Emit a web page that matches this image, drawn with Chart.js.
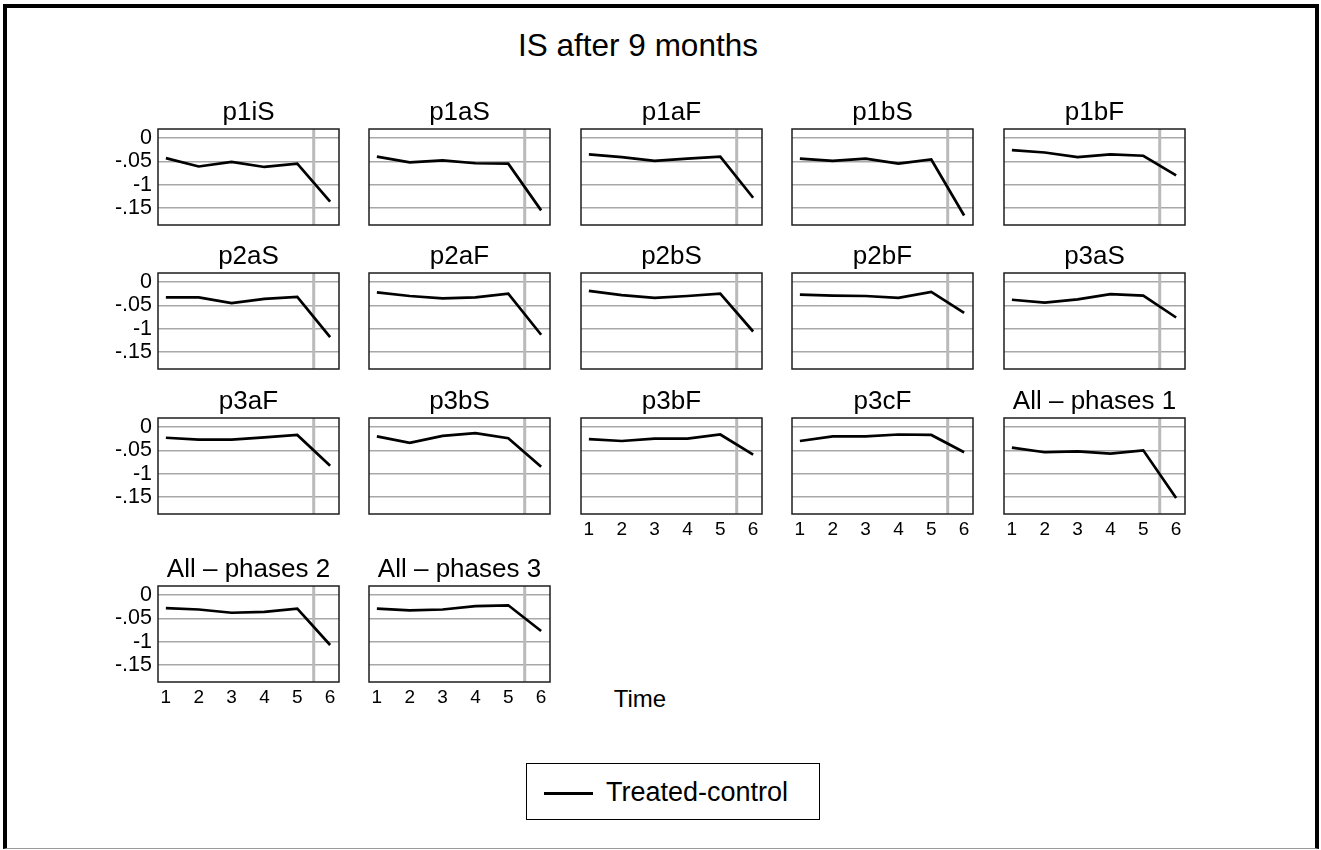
<!DOCTYPE html>
<html>
<head>
<meta charset="utf-8">
<script src="https://cdn.jsdelivr.net/npm/chart.js@4"></script>
<style>
  html, body { margin: 0; padding: 0; background: #fff; }
  body { width: 1321px; height: 850px; position: relative; overflow: hidden;
         font-family: "Liberation Sans", Arial, sans-serif; color: #000; }
  #frame { position: absolute; left: 3px; top: 4px; width: 1316px; height: 845px; box-sizing: border-box;
           border: 4px solid #000; border-bottom: 1px solid #999; }
  canvas { position: absolute; }
  .txt { position: absolute; line-height: 1; white-space: nowrap; }
  #title { font-size: 31.5px; top: 30px; left: 0; width: 1276px; text-align: center; }
  #xtitle { font-size: 24px; top: 687px; left: 0; width: 1280px; text-align: center; }
  #legend { position: absolute; left: 526px; top: 763px; width: 294px; height: 57px; box-sizing: border-box;
            border: 1.5px solid #000; }
  #legend-line { position: absolute; left: 544px; top: 792px; width: 49px; height: 2.7px; background: #000; }
  #legend-text { font-size: 27px; left: 606px; top: 779px; }
</style>
</head>
<body>
<div id="frame"></div>
<div id="title" class="txt">IS after 9 months</div>
<div id="xtitle" class="txt">Time</div>
<div id="legend"></div>
<div id="legend-line"></div>
<div id="legend-text" class="txt">Treated-control</div>
<script>
"use strict";

// ---- data ----
const X_TIMES = [1, 2, 3, 4, 5, 6];
const X_LABELS = ["1", "2", "3", "4", "5", "6"];
const Y_TICKS = [0, -0.05, -0.1, -0.15];
const Y_LABELS = ["0", "-.05", "-1", "-.15"];   // as printed in the original
const CUTOFF = 5.5;                              // grey vertical reference line
const SERIES_LABEL = "Treated-control";

const P1IS   = [-0.043, -0.061, -0.051, -0.062, -0.055, -0.136];
const P1AS   = [-0.040, -0.052, -0.048, -0.054, -0.055, -0.155];
const P1AF   = [-0.035, -0.041, -0.049, -0.044, -0.040, -0.128];
const P1BS   = [-0.044, -0.049, -0.044, -0.055, -0.046, -0.166];
const P1BF   = [-0.026, -0.031, -0.041, -0.035, -0.038, -0.080];
const P2AS   = [-0.033, -0.033, -0.045, -0.036, -0.032, -0.118];
const P2AF   = [-0.022, -0.030, -0.035, -0.033, -0.025, -0.113];
const P2BS   = [-0.019, -0.028, -0.034, -0.030, -0.025, -0.106];
const P2BF   = [-0.027, -0.029, -0.030, -0.034, -0.021, -0.066];
const P3AS   = [-0.038, -0.044, -0.037, -0.026, -0.029, -0.076];
const P3AF   = [-0.023, -0.027, -0.027, -0.022, -0.017, -0.083];
const P3BS   = [-0.020, -0.034, -0.019, -0.013, -0.024, -0.085];
const P3BF   = [-0.026, -0.030, -0.025, -0.025, -0.016, -0.059];
const P3CF   = [-0.030, -0.020, -0.020, -0.016, -0.017, -0.054];
const ALL_P1 = [-0.044, -0.054, -0.052, -0.057, -0.050, -0.152];
const ALL_P2 = [-0.028, -0.031, -0.038, -0.036, -0.029, -0.107];
const ALL_P3 = [-0.029, -0.033, -0.031, -0.024, -0.022, -0.077];

const PANELS = [
  ["p1iS", P1IS], ["p1aS", P1AS], ["p1aF", P1AF], ["p1bS", P1BS], ["p1bF", P1BF],
  ["p2aS", P2AS], ["p2aF", P2AF], ["p2bS", P2BS], ["p2bF", P2BF], ["p3aS", P3AS],
  ["p3aF", P3AF], ["p3bS", P3BS], ["p3bF", P3BF], ["p3cF", P3CF], ["All \u2013 phases 1", ALL_P1],
  ["All \u2013 phases 2", ALL_P2], ["All \u2013 phases 3", ALL_P3],
];

// ---- layout ----
const NCOL = 5;
const COL_LEFT = [158, 369, 581, 792, 1004];   // plot-box left edges
const ROW_TOP = [129, 273, 418, 586];          // plot-box top edges
const BOX_W = 181, BOX_H = 96;
const Y_MIN = -0.1863, Y_MAX = 0.0193;
const X_MIN = 0.76, X_MAX = 6.27;
const PAD = 6, Y_AXIS_W = 60, TITLE_H = 32, X_AXIS_H = 36;

Chart.defaults.font.family = "'Liberation Sans', Arial, sans-serif";
Chart.defaults.color = "#000";

// grey reference line under the data, dark frame around the plot region
const panelFrame = {
  id: "panelFrame",
  beforeDatasetsDraw(chart) {
    const { ctx, chartArea: { top, bottom }, scales: { x } } = chart;
    const px = x.getPixelForValue(CUTOFF);
    ctx.save();
    ctx.strokeStyle = "#bababa"; ctx.lineWidth = 3;
    ctx.beginPath(); ctx.moveTo(px, top); ctx.lineTo(px, bottom); ctx.stroke();
    ctx.restore();
  },
  afterDatasetsDraw(chart) {
    const { ctx, chartArea: { top, bottom, left, right } } = chart;
    ctx.save();
    ctx.strokeStyle = "#1e1e1e"; ctx.lineWidth = 1.5;
    ctx.strokeRect(left, top, right - left, bottom - top);
    ctx.restore();
  },
};

function makePanel([name, values], i) {
  const row = Math.floor(i / NCOL), col = i % NCOL;
  const hasY = col === 0;
  const hasX = i + NCOL >= PANELS.length;   // bottom panel of its column
  const yW = hasY ? Y_AXIS_W : 0;
  const w = PAD + yW + BOX_W + PAD, h = TITLE_H + BOX_H + X_AXIS_H;

  const cv = document.createElement("canvas");
  cv.width = w; cv.height = h;
  cv.style.width = w + "px"; cv.style.height = h + "px";
  cv.style.left = (COL_LEFT[col] - PAD - yW) + "px";
  cv.style.top = (ROW_TOP[row] - TITLE_H) + "px";
  document.body.appendChild(cv);

  new Chart(cv, {
    type: "line",
    data: {
      datasets: [{
        label: SERIES_LABEL,
        data: X_TIMES.map((t, k) => ({ x: t, y: values[k] })),
        borderColor: "#000", borderWidth: 2.7, pointRadius: 0, tension: 0,
      }],
    },
    plugins: [panelFrame],
    options: {
      responsive: false, animation: false, devicePixelRatio: 1, events: [],
      layout: { padding: { left: PAD, right: PAD, top: 0, bottom: 0 } },
      plugins: {
        legend: { display: false },
        tooltip: { enabled: false },
        title: {
          display: true, text: name, fullSize: false, color: "#000",
          font: { size: 26, weight: "normal", lineHeight: 1.2 },
          padding: { top: 0, bottom: TITLE_H - 31.2 },
        },
      },
      scales: {
        x: {
          type: "linear", min: X_MIN, max: X_MAX,
          afterBuildTicks: (s) => { s.ticks = X_TIMES.map((v) => ({ value: v })); },
          afterFit: (s) => { s.height = X_AXIS_H; },
          grid: { display: false, drawTicks: false },
          border: { display: false },
          ticks: { display: hasX, padding: 4, color: "#000", font: { size: 19 },
                   maxRotation: 0, autoSkip: false,
                   callback: (v) => X_LABELS[X_TIMES.indexOf(v)] },
        },
        y: {
          type: "linear", min: Y_MIN, max: Y_MAX,
          afterBuildTicks: (s) => { s.ticks = Y_TICKS.map((v) => ({ value: v })); },
          afterFit: (s) => { s.width = yW; },
          grid: { color: "#a8a8a8", lineWidth: 1.5, drawTicks: false },
          border: { display: false },
          ticks: { display: hasY, padding: 6, color: "#000", font: { size: 21.5 }, autoSkip: false,
                   callback: (v) => Y_LABELS[Y_TICKS.findIndex((t) => Math.abs(t - v) < 1e-9)] },
        },
      },
    },
  });
}

PANELS.forEach(makePanel);
</script>
</body>
</html>
